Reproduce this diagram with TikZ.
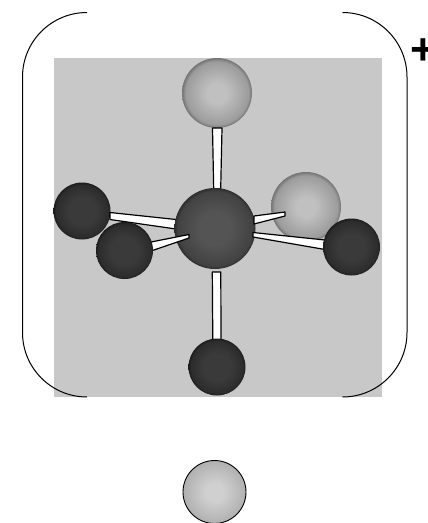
\documentclass[tikz,border=0pt]{standalone}
\usepackage{fontspec}
\setmainfont{Liberation Sans}
\definecolor{bgray}{HTML}{C8C8C8}
\definecolor{lA}{HTML}{C0C0C0}\definecolor{lB}{HTML}{9C9C9C}\definecolor{lC}{HTML}{747474}
\definecolor{dA}{HTML}{3A3A3A}\definecolor{dB}{HTML}{2C2C2C}\definecolor{dC}{HTML}{1C1C1C}
\definecolor{cA}{HTML}{545454}\definecolor{cB}{HTML}{424242}\definecolor{cC}{HTML}{2E2E2E}
\definecolor{fA}{HTML}{D0D0D0}\definecolor{fB}{HTML}{B0B0B0}
\pgfdeclareradialshading{ballL}{\pgfpoint{0bp}{0bp}}{color(0bp)=(lA);color(7bp)=(lA);color(22.5bp)=(lB);color(25bp)=(lC);color(50bp)=(lC)}
\pgfdeclareradialshading{ballD}{\pgfpoint{0bp}{0bp}}{color(0bp)=(dA);color(12bp)=(dA);color(23bp)=(dB);color(25bp)=(dC);color(50bp)=(dC)}
\pgfdeclareradialshading{ballC}{\pgfpoint{0bp}{0bp}}{color(0bp)=(cA);color(10bp)=(cA);color(23bp)=(cB);color(25bp)=(cC);color(50bp)=(cC)}
\pgfdeclareradialshading{ballF}{\pgfpoint{0bp}{0bp}}{color(0bp)=(fA);color(7bp)=(fA);color(25bp)=(fB);color(50bp)=(fB)}
\tikzset{
  sphere/.style={circle,inner sep=0pt,outer sep=0pt,minimum size=#1},
  lightsphere/.style={sphere=70pt,shading=ballL},
  darksphere/.style={sphere=57pt,shading=ballD},
  centresphere/.style={sphere=81pt,shading=ballC},
  freesphere/.style={sphere=63pt,shading=ballF,draw=black,line width=0.9pt},
  stick/.style={fill=white,draw=black,line width=1.2pt,line join=round},
  bracket/.style={draw=black,line width=1pt}
}
\begin{document}
\begin{tikzpicture}[x=1pt,y=-1pt]
\useasboundingbox (0,0) rectangle (428,523);
\fill[bgray] (54,58) rectangle (382,397);
% brackets
\draw[bracket] (87,12.5) arc[start angle=90,end angle=180,x radius=64.5,y radius=-64.5] -- (22.5,332.5) arc[start angle=180,end angle=270,x radius=64.5,y radius=-64.5];
\draw[bracket] (342.5,12.5) arc[start angle=90,end angle=0,x radius=64.5,y radius=-64.5] -- (407,332.5) arc[start angle=0,end angle=-90,x radius=64.5,y radius=-64.5];
\node[font=\bfseries\fontsize{44}{44}\selectfont,inner sep=0pt] (plus) at (423.5,51.5) {+};
% back spheres
\node[lightsphere] (top) at (217,93) {};
\node[lightsphere] (lr) at (306,207) {};
\node[darksphere] (ll) at (82,211) {};
% sticks behind the centre
\filldraw[stick] (110,212.5) -- (176,219.5) -- (176,229) -- (110,219.5) -- cycle;
\filldraw[stick] (212.5,128) -- (222,128) -- (220.7,189) -- (213.7,189) -- cycle;
\filldraw[stick] (212.3,272) -- (220.8,272) -- (221,340) -- (212.8,340) -- cycle;
\node[centresphere] (c) at (215,228.5) {};
% sticks in front of the centre
\filldraw[stick] (254,216) -- (285,212) -- (285,216) -- (254,224) -- cycle;
\filldraw[stick] (253,232.5) -- (325,240) -- (325,249.5) -- (253,237) -- cycle;
\filldraw[stick] (151,242) -- (189,234.5) -- (189,238) -- (151,251) -- cycle;
% front spheres
\node[darksphere] (fl) at (124.5,250.5) {};
\node[darksphere] (rr) at (351.5,247) {};
\node[darksphere] (bot) at (217,367) {};
\node[freesphere] (free) at (214.5,492) {};
\end{tikzpicture}
\end{document}
